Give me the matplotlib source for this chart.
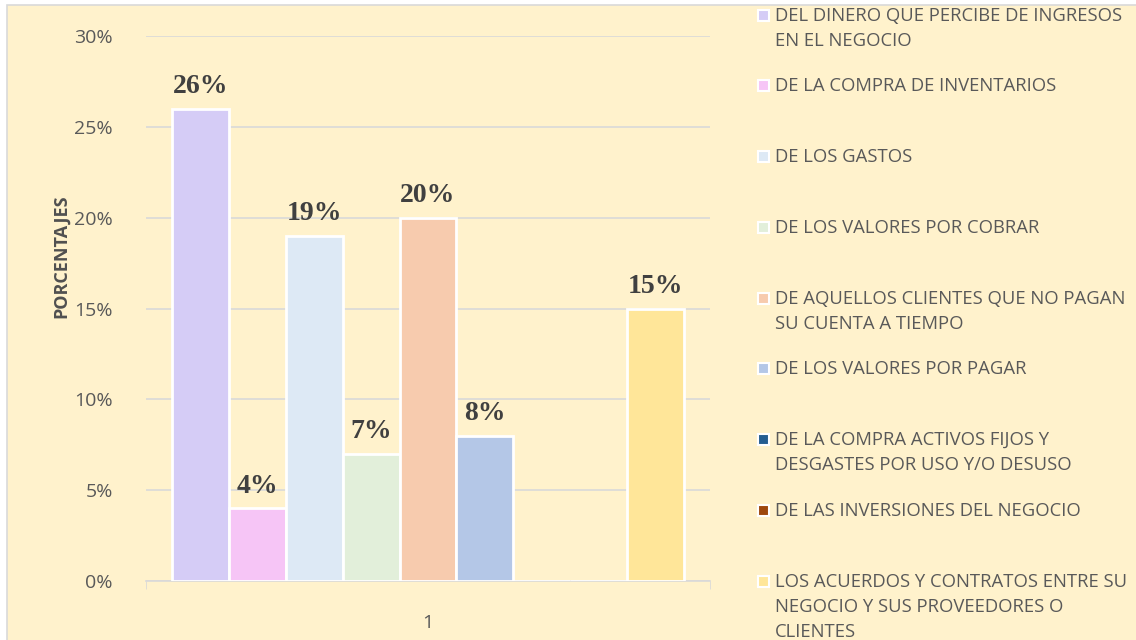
import matplotlib
matplotlib.use("Agg")
import matplotlib.pyplot as plt
from matplotlib.patches import Rectangle
from matplotlib.ticker import PercentFormatter

categories = ["1"]
series_labels = [
    "DEL DINERO QUE PERCIBE DE INGRESOS\nEN EL NEGOCIO",
    "DE LA COMPRA DE INVENTARIOS",
    "DE LOS GASTOS",
    "DE LOS VALORES POR COBRAR",
    "DE AQUELLOS CLIENTES QUE NO PAGAN\nSU CUENTA A TIEMPO",
    "DE LOS VALORES POR PAGAR",
    "DE LA COMPRA ACTIVOS FIJOS Y\nDESGASTES POR USO Y/O DESUSO",
    "DE LAS INVERSIONES DEL NEGOCIO",
    "LOS ACUERDOS Y CONTRATOS ENTRE SU\nNEGOCIO Y SUS PROVEEDORES O\nCLIENTES",
]
series_values = [0.26, 0.04, 0.19, 0.07, 0.20, 0.08, 0.0, 0.0, 0.15]
series_colors = ["#D5CCF6", "#F6C5F6", "#DDE9F5", "#E2EFDA", "#F7CBAE",
                 "#B4C7E7", "#255E91", "#9E480E", "#FFE699"]
y_ticks = [0, 0.05, 0.10, 0.15, 0.20, 0.25, 0.30]

W, H = 1136, 640
fig = plt.figure(figsize=(W / 100, H / 100), dpi=100)
fig.patch.set_facecolor("white")
bg = Rectangle((7 / W, -0.05), 1.1, 1 - 5 / H + 0.05, transform=fig.transFigure,
               facecolor="#FFF2CC", edgecolor="#D9D9D9", linewidth=1.2, zorder=-10)
fig.patches.append(bg)

ax = fig.add_axes([146 / W, 1 - 581 / H, (710 - 146) / W, (581 - 36) / H])
ax.set_facecolor("none")

n = len(series_values)
group = 0.908
w = group / n
for i, (v, c) in enumerate(zip(series_values, series_colors)):
    x = -group / 2 + w * (i + 0.5)
    ax.bar(x, v, width=w, color=c, edgecolor="white", linewidth=2, zorder=3)
    if v > 0:
        ax.annotate(f"{v * 100:.0f}%", (x, v), xytext=(0, 7), textcoords="offset points",
                    ha="center", va="bottom", fontsize=20, fontweight="bold",
                    family="Liberation Serif", color="#404040", zorder=4)

ax.set_xlim(-0.5, 0.5)
ax.set_ylim(0, 0.30)
ax.set_yticks(y_ticks)
ax.yaxis.set_major_formatter(PercentFormatter(1.0, decimals=0))
ax.set_xticks([0])
ax.set_xticklabels(categories)
ax.set_xticks([-0.5, 0.5], minor=True)
ax.tick_params(axis="x", which="major", length=0, pad=24, labelsize=14, labelcolor="#595959")
ax.tick_params(axis="x", which="minor", length=6, color="#D9D9D9")
ax.tick_params(axis="y", length=0, pad=24, labelsize=14, labelcolor="#595959")
for lab in ax.get_yticklabels() + ax.get_xticklabels():
    lab.set_family("Open Sans")
ax.grid(axis="y", color="#D9D9D9", linewidth=1.2, zorder=0)
ax.set_axisbelow(True)
for s in ["top", "right", "left"]:
    ax.spines[s].set_visible(False)
ax.spines["bottom"].set_color("#D9D9D9")
ax.spines["bottom"].set_linewidth(1.2)

fig.text(61 / W, 1 - 256 / H, "PORCENTAJES", rotation=90, ha="center", va="center",
         fontsize=13, fontweight="bold", family="Open Sans", color="#505050")

# legend
first_line_y = [16, 86, 157, 228, 299, 369, 440, 511, 582]
line_h = 25
for lab, c, yy in zip(series_labels, series_colors, first_line_y):
    fig.patches.append(Rectangle((758 / W, 1 - (yy + 5) / H), 11 / W, 11 / H,
                                 transform=fig.transFigure, facecolor=c,
                                 edgecolor="white", linewidth=1.5))
    for k, line in enumerate(lab.split("\n")):
        fig.text(775 / W, 1 - (yy + k * line_h) / H, line, ha="left", va="center",
                 fontsize=13.3, family="Open Sans", color="#595959")

fig.savefig("out.png", dpi=100)
